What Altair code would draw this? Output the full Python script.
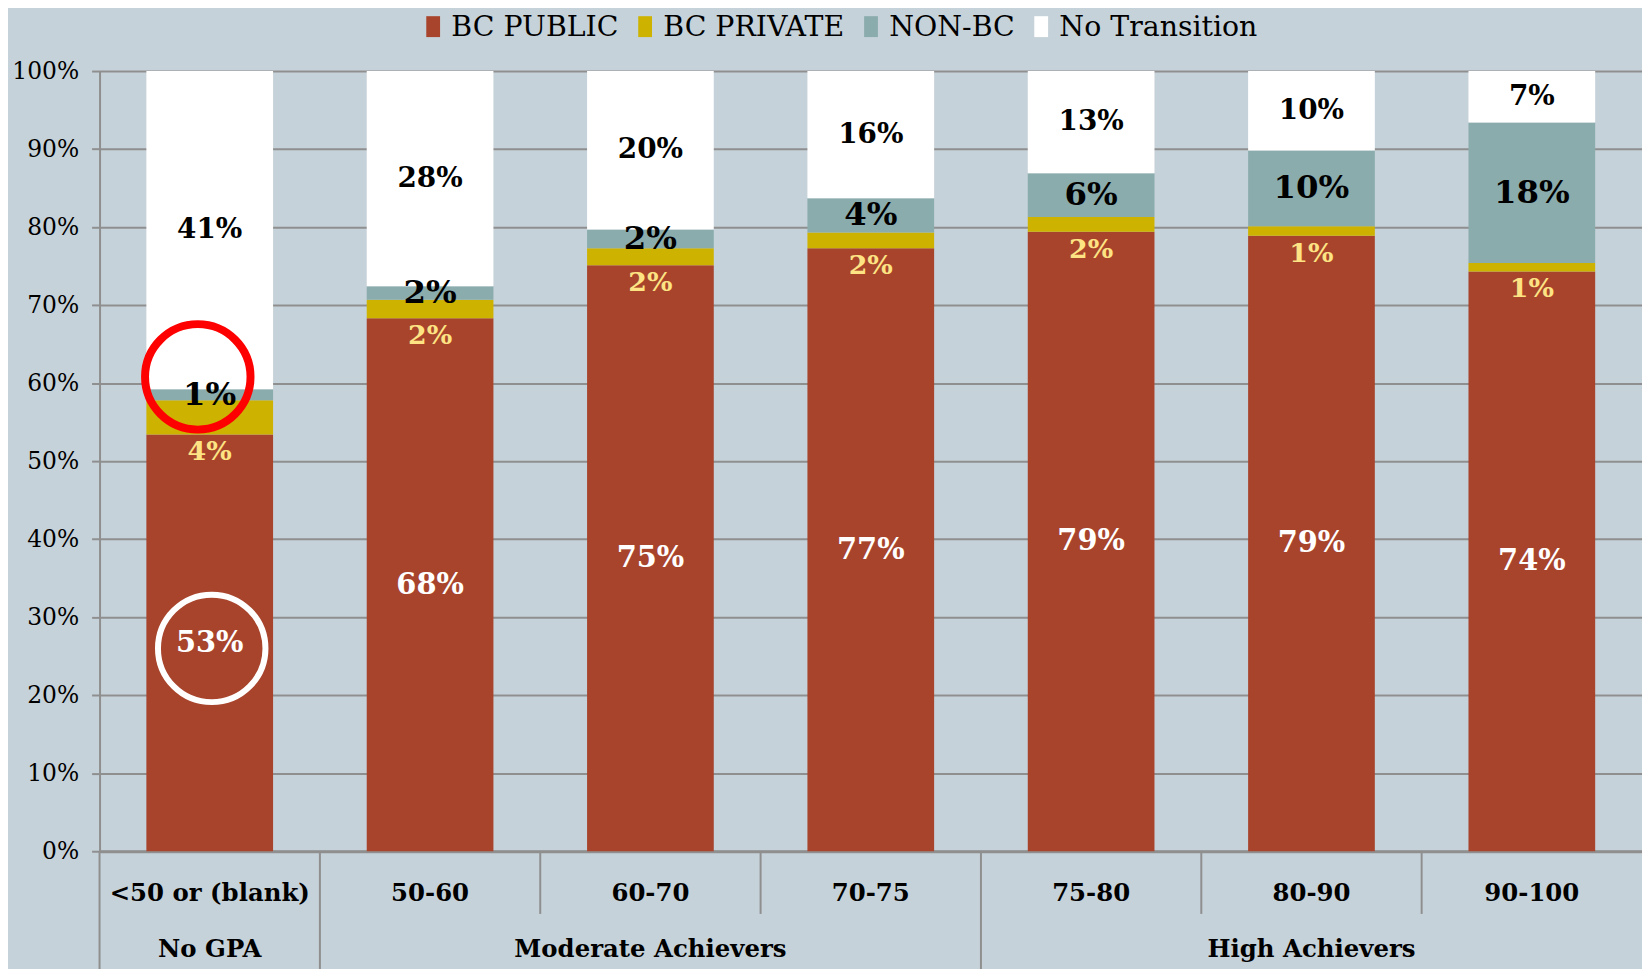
import altair as alt
import pandas as pd

categories = ["<50 or (blank)", "50-60", "60-70", "70-75", "75-80", "80-90", "90-100"]
groups = ["No GPA", "Moderate Achievers", "High Achievers"]
group_anchor = ["<50 or (blank)", "60-70", "80-90"]
series = ["BC PUBLIC", "BC PRIVATE", "NON-BC", "No Transition"]
colors = ["#a8442c", "#cdb300", "#8aacad", "#ffffff"]

bc_public = [53.4, 68.3, 75.1, 77.3, 79.4, 78.9, 74.3]
bc_private = [4.4, 2.4, 2.2, 2.0, 1.9, 1.2, 1.1]
non_bc = [1.4, 1.7, 2.4, 4.4, 5.6, 9.7, 18.0]
no_transition = [40.8, 27.6, 20.3, 16.3, 13.1, 10.2, 6.6]

long_sep = ["<50 or (blank)", "50-60", "75-80"]
short_sep = ["60-70", "70-75", "80-90", "90-100"]

circle_cat = ["<50 or (blank)", "<50 or (blank)"]
circle_y = [60.8, 26.0]
circle_color = ["#ff0000", "#ffffff"]

W, H = 1550, 784
STEP = W / len(categories)
BG = "#c6d2d9"
GRID = "#8f8f8f"
FONT = "DejaVu Serif"

rows = []
for i, c in enumerate(categories):
    start = 0.0
    for s, vals in zip(series, [bc_public, bc_private, non_bc, no_transition]):
        v = vals[i]
        rows.append({"cat": c, "series": s, "start": start, "end": start + v,
                     "value": v, "mid": start + v / 2})
        start += v
df = pd.DataFrame(rows)

xenc = alt.X("cat:N", sort=categories,
             scale=alt.Scale(paddingInner=0.425, paddingOuter=0.2125),
             axis=alt.Axis(labels=False, ticks=False, title=None, domain=True,
                           domainColor=GRID, domainWidth=3, grid=False))
yscale = alt.Scale(domain=[0, 100], nice=False)

base = alt.Chart(df)

bars = base.mark_bar().encode(
    x=xenc,
    y=alt.Y("start:Q", scale=yscale,
            axis=alt.Axis(values=list(range(0, 101, 10)), labelExpr="datum.value + '%'",
                          title=None, grid=True, gridColor=GRID, gridWidth=2,
                          domainColor=GRID, domainWidth=2, tickColor=GRID, tickWidth=2,
                          tickSize=8, labelFont=FONT, labelFontSize=23.5, labelColor="black",
                          labelPadding=13)),
    y2="end:Q",
    color=alt.Color("series:N", sort=series,
                    scale=alt.Scale(domain=series, range=colors),
                    legend=alt.Legend(title=None, orient="none", direction="horizontal",
                                      legendX=321, legendY=-59, labelFont=FONT,
                                      labelFontSize=28.5, labelColor="black", labelLimit=500,
                                      symbolType="M-0.66,-1H0.66V1H-0.66Z",
                                      symbolSize=441, symbolStrokeWidth=0,
                                      symbolOpacity=1, labelOffset=4, columnPadding=12,
                                      padding=0)),
)

def label_layer(name, field, color, size, dy=0):
    return base.transform_filter(alt.datum.series == name).transform_calculate(
        lab="format(datum.value, '.0f') + '%'"
    ).mark_text(font=FONT, fontWeight="bold", fontSize=size, color=color,
                baseline="middle", dy=dy).encode(
        x=alt.X("cat:N", sort=categories),
        y=alt.Y(f"{field}:Q", scale=yscale),
        text="lab:N",
    )

lab_pub = label_layer("BC PUBLIC", "mid", "white", 29)
lab_priv = label_layer("BC PRIVATE", "start", "#fde383", 27, dy=18)
lab_non = label_layer("NON-BC", "mid", "black", 32.5)
lab_nt = label_layer("No Transition", "mid", "black", 28)

cat_df = pd.DataFrame({"cat": categories})
cat_labels = alt.Chart(cat_df).mark_text(font=FONT, fontWeight="bold", fontSize=24.5,
                                         color="black", baseline="middle").encode(
    x=alt.X("cat:N", sort=categories), y=alt.value(H + 43), text="cat:N")

grp_df = pd.DataFrame({"cat": group_anchor, "grp": groups})
grp_labels = alt.Chart(grp_df).mark_text(font=FONT, fontWeight="bold", fontSize=24.5,
                                         color="black", baseline="middle").encode(
    x=alt.X("cat:N", sort=categories), y=alt.value(H + 99), text="grp:N")

long_rules = alt.Chart(pd.DataFrame({"cat": long_sep})).mark_rule(
    color=GRID, strokeWidth=2, xOffset=-STEP / 2).encode(
    x=alt.X("cat:N", sort=categories), y=alt.value(H), y2=alt.value(H + 120))
short_rules = alt.Chart(pd.DataFrame({"cat": short_sep})).mark_rule(
    color=GRID, strokeWidth=2, xOffset=-STEP / 2).encode(
    x=alt.X("cat:N", sort=categories), y=alt.value(H), y2=alt.value(H + 63))

circ_df = pd.DataFrame({"cat": circle_cat, "y": circle_y, "col": circle_color})
red_circle = alt.Chart(circ_df.iloc[[0]]).mark_point(
    shape="circle", filled=False, size=106 * 106, strokeWidth=8, opacity=1,
    xOffset=-12).encode(
    x=alt.X("cat:N", sort=categories), y=alt.Y("y:Q", scale=yscale),
    stroke=alt.Stroke("col:N", scale=None))
white_circle = alt.Chart(circ_df.iloc[[1]]).mark_point(
    shape="circle", filled=False, size=108 * 108, strokeWidth=6, opacity=1,
    xOffset=2).encode(
    x=alt.X("cat:N", sort=categories), y=alt.Y("y:Q", scale=yscale),
    stroke=alt.Stroke("col:N", scale=None))

chart = alt.layer(
    bars, lab_pub, lab_priv, lab_non, lab_nt, cat_labels, grp_labels,
    long_rules, short_rules, white_circle, red_circle
).properties(
    width=W, height=H,
    autosize=alt.AutoSizeParams(type="none"),
    padding={"left": 92, "top": 61, "right": 0, "bottom": 116},
).configure(background=BG).configure_view(stroke=None)

chart.save("out.html", embed_options={"renderer": "svg", "actions": False})
